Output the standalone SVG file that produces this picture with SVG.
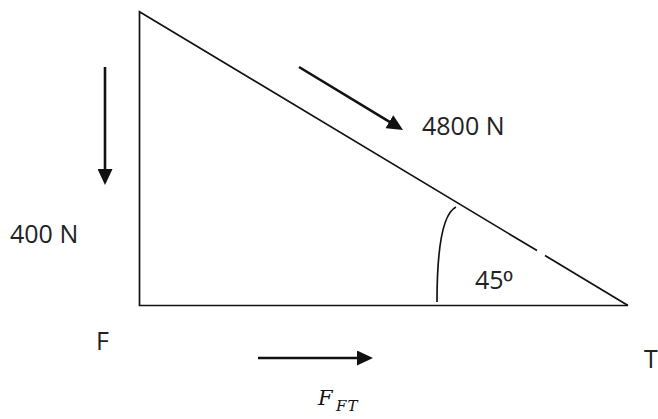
<svg xmlns="http://www.w3.org/2000/svg" width="658" height="419" viewBox="0 0 658 419">
<style>
.edge{fill:none;stroke:#111;stroke-width:1.7}
.arr{fill:none;stroke:#111;stroke-width:2.6;marker-end:url(#head)}
.lbl{font-family:"Open Sans","Liberation Sans",sans-serif;font-size:25px;fill:#222}
.math{font-family:"DejaVu Serif","Liberation Serif",serif;font-style:italic;fill:#111}
</style>
<defs>
<marker id="head" markerUnits="userSpaceOnUse" markerWidth="16" markerHeight="15" refX="6" refY="7.5" orient="auto">
<path d="M0,0 L16,7.5 L0,15 z" fill="#111"/>
</marker>
</defs>
<rect width="658" height="419" fill="#fff"/>
<g id="triangle">
<path class="edge" d="M628,305.5 L139.5,305.5 L139.5,11.7 L537,250.6"/>
<path class="edge" d="M545,255.4 L628,305.5"/>
</g>
<g id="angle">
<path class="edge" d="M456,207 C444,213 437,240 437,302"/>
<text class="lbl" x="475" y="289">45<tspan font-family="Liberation Sans">º</tspan></text>
</g>
<g id="connectors">
<line class="arr" x1="105" y1="67" x2="105" y2="175"/>
<line class="arr" x1="299" y1="67" x2="394.5" y2="124.8"/>
<line class="arr" x1="258" y1="358" x2="363" y2="358"/>
</g>
<g id="label-4800">
<text class="lbl" x="422" y="135">4800 N</text>
</g>
<g id="label-400">
<text class="lbl" x="10" y="243">400 N</text>
</g>
<g id="node-F">
<text class="lbl" x="96" y="350">F</text>
</g>
<g id="node-T">
<text class="lbl" x="644" y="368">T</text>
</g>
<g id="label-FFT">
<text class="math" x="318" y="405" font-size="21">F</text>
<text class="math" x="336" y="411" font-size="15" letter-spacing="1">FT</text>
</g>
</svg>
